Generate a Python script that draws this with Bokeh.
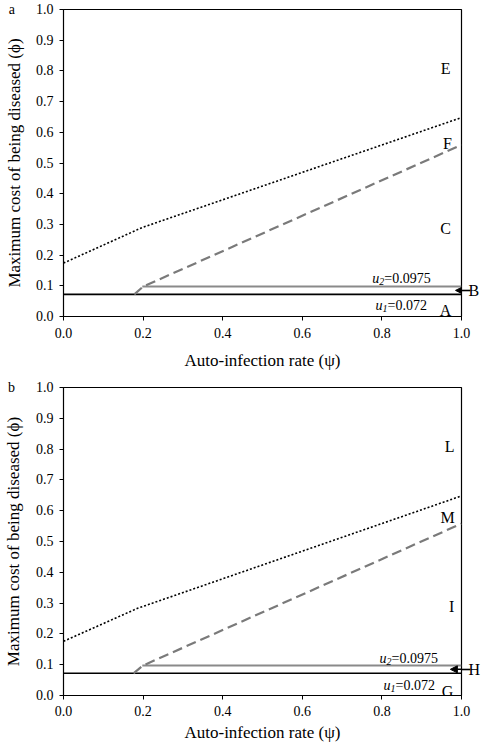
from bokeh.plotting import figure
from bokeh.layouts import column
from bokeh.models import (Range1d, FixedTicker, PrintfTickFormatter, Label, Arrow,
                          NormalHead, LinearAxis)
from bokeh.embed import file_html
from bokeh.resources import INLINE

# ---------------- data ----------------
U1 = 0.072
U2 = 0.0975
ARROW_Y = 0.085

# panel a
a_dot_x = [0.0, 0.198, 1.0]
a_dot_y = [0.174, 0.29, 0.648]
a_dash_x = [0.178, 0.2, 1.0]
a_dash_y = [0.072, 0.0975, 0.559]
a_u2_start = 0.198
a_regions = ["E", "F", "C", "A"]
a_region_x = [0.96, 0.965, 0.96, 0.96]
a_region_y = [0.807, 0.565, 0.288, 0.018]
a_side = "B"

# panel b
b_dot_x = [0.0, 0.186, 1.0]
b_dot_y = [0.176, 0.283, 0.648]
b_dash_x = [0.176, 0.2, 1.0]
b_dash_y = [0.072, 0.0975, 0.558]
b_u2_start = 0.198
b_regions = ["L", "M", "I", "G"]
b_region_x = [0.97, 0.965, 0.975, 0.965]
b_region_y = [0.808, 0.577, 0.29, 0.014]
b_side = "H"

x_ticks = [0.0, 0.2, 0.4, 0.6, 0.8, 1.0]
y_ticks = [0.0, 0.1, 0.2, 0.3, 0.4, 0.5, 0.6, 0.7, 0.8, 0.9, 1.0]

FONT = "Liberation Serif"


def panel(letter, dot_x, dot_y, dash_x, dash_y, u2_start, regions, rx, ry, side,
          height, top, bottom, xl_std, xlab_standoff, u2_pos, u1_pos, arrow_tip):
    p = figure(width=484, height=height, output_backend="svg", toolbar_location=None,
               x_range=Range1d(0, 1), y_range=Range1d(0, 1),
               min_border_left=63, min_border_right=23,
               min_border_top=top, min_border_bottom=bottom)
    p.xgrid.visible = False
    p.ygrid.visible = False
    p.outline_line_color = "black"
    p.outline_line_width = 1.2
    p.background_fill_color = "white"
    p.border_fill_color = "white"

    for ax in (p.xaxis[0], p.yaxis[0]):
        ax.axis_line_color = "black"
        ax.major_tick_line_color = "black"
        ax.minor_tick_line_color = None
        ax.major_tick_out = 4
        ax.major_tick_in = 0
        ax.major_label_text_font = FONT
        ax.major_label_text_font_size = "14px"
        ax.major_label_text_color = "black"
        ax.axis_label_text_font = FONT
        ax.axis_label_text_font_size = "17px"
        ax.axis_label_text_font_style = "normal"
        ax.axis_label_text_color = "black"
        ax.formatter = PrintfTickFormatter(format="%.1f")
    p.xaxis[0].ticker = FixedTicker(ticks=x_ticks)
    p.yaxis[0].ticker = FixedTicker(ticks=y_ticks)
    p.xaxis[0].axis_label = "Auto-infection rate (\u03c8)"
    p.yaxis[0].axis_label = "Maximum cost of being diseased (\u03d5)"
    p.xaxis[0].major_label_standoff = xl_std
    p.xaxis[0].axis_label_standoff = xlab_standoff
    p.yaxis[0].major_label_standoff = 6
    p.yaxis[0].axis_label_standoff = -18
    # panel letter placed in line with the top tick label
    p.yaxis[0].major_label_overrides = {1.0: letter + "\u2003\u2002" + "1.0"}

    # right-hand marker axis carrying the arrow tail and its letter
    rax = LinearAxis(ticker=FixedTicker(ticks=[ARROW_Y]),
                     major_label_overrides={ARROW_Y: side})
    rax.axis_line_color = None
    rax.major_tick_out = 9
    rax.major_tick_in = 0
    rax.major_tick_line_width = 1.6
    rax.major_tick_line_color = "black"
    rax.minor_tick_line_color = None
    rax.major_label_standoff = -2
    rax.major_label_text_font = FONT
    rax.major_label_text_font_size = "16px"
    rax.major_label_text_color = "black"
    p.add_layout(rax, "right")

    # lines
    p.line([0.0, 1.0], [U1, U1], line_color="black", line_width=1.6)
    p.line([u2_start, 1.0], [U2, U2], line_color="#8a8a8a", line_width=2)
    p.line(dash_x, dash_y, line_color="#7a7a7a", line_width=2.2, line_dash="10 5")
    p.line(dot_x, dot_y, line_color="black", line_width=1.6, line_dash="2 2")

    # region letters
    for t, x, y in zip(regions, rx, ry):
        p.add_layout(Label(x=x, y=y, text=t, text_font=FONT, text_font_size="16px",
                           text_align="center", text_baseline="alphabetic",
                           text_color="black"))

    # u labels
    for (x, y), sub, val in ((u2_pos, "2", "=0.0975"), (u1_pos, "1", "=0.072")):
        p.add_layout(Label(x=x, y=y, text="u", text_font=FONT, text_font_size="14px",
                           text_font_style="italic", text_baseline="alphabetic",
                           text_color="black"))
        p.add_layout(Label(x=x, y=y, x_offset=7, y_offset=-3, text=sub, text_font=FONT,
                           text_font_size="10px", text_font_style="italic",
                           text_baseline="alphabetic", text_color="black"))
        p.add_layout(Label(x=x, y=y, x_offset=12, text=val, text_font=FONT,
                           text_font_size="14px", text_baseline="alphabetic",
                           text_color="black"))

    # arrow head just inside the frame
    p.add_layout(Arrow(end=NormalHead(size=7, fill_color="black", line_color="black"),
                       x_start=1.0, y_start=ARROW_Y, x_end=arrow_tip, y_end=ARROW_Y,
                       line_color="black", line_width=1.6))
    return p


pa = panel("a", a_dot_x, a_dot_y, a_dash_x, a_dash_y, a_u2_start, a_regions,
           a_region_x, a_region_y, a_side, 372, 9, 50, 7, 10,
           (0.776, 0.124), (0.784, 0.036), 0.985)
pb = panel("b", b_dot_x, b_dot_y, b_dash_x, b_dash_y, b_u2_start, b_regions,
           b_region_x, b_region_y, b_side, 372, 15, 45, 6, 4,
           (0.794, 0.12), (0.804, 0.033), 0.972)

layout = column(pa, pb, spacing=0)
open("out.html", "w").write(file_html(layout, INLINE))
